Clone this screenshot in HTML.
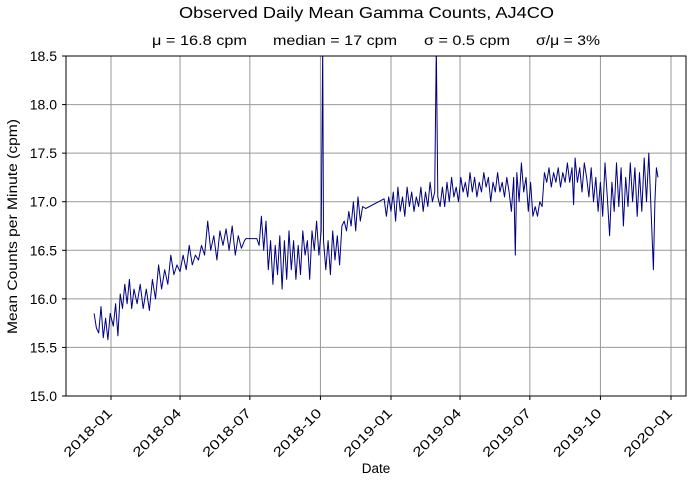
<!DOCTYPE html>
<html><head><meta charset="utf-8"><style>
html,body{margin:0;padding:0;background:#fff;}
svg text{font-family:"Liberation Sans","DejaVu Sans",sans-serif;fill:#000;}
</style></head><body>
<svg id="chart" width="692" height="482" xmlns="http://www.w3.org/2000/svg">
<defs><clipPath id="clip"><rect x="66" y="56" width="620" height="340"/></clipPath></defs>
<rect x="0" y="0" width="692" height="482" fill="#fff"/>
<text x="179" y="18" font-size="16" textLength="375" lengthAdjust="spacingAndGlyphs">Observed Daily Mean Gamma Counts, AJ4CO</text>
<g font-size="13.5">
<text x="152" y="45" textLength="95" lengthAdjust="spacingAndGlyphs">μ = 16.8 cpm</text>
<text x="273" y="45" textLength="124" lengthAdjust="spacingAndGlyphs">median = 17 cpm</text>
<text x="424" y="45" textLength="86" lengthAdjust="spacingAndGlyphs">σ = 0.5 cpm</text>
<text x="536" y="45" textLength="64" lengthAdjust="spacingAndGlyphs">σ/μ = 3%</text>
</g>
<g id="grid"></g>
<g id="series" clip-path="url(#clip)"></g>
<rect x="66" y="56" width="620" height="340" fill="none" stroke="#000" stroke-width="1"/>
<g id="axes"></g>
<text x="376" y="473" font-size="13.5" text-anchor="middle">Date</text>
<text transform="translate(17,334) rotate(-90)" font-size="13.5" textLength="215" lengthAdjust="spacingAndGlyphs">Mean Counts per Minute (cpm)</text>
</svg>
<script>
const days = [-22,-19,-16,-13,-10,-7,-4,-1,3,6,9,12,15,18,21,24,27,30,34,38,42,46,50,54,58,62,66,70,74,78,82,86,90,94,98,102,106,110,114,118,122,126,130,134,138,142,146,150,154,158,162,166,170,174,176,190,193,196,199,202,205,208,211,214,217,220,223,226,229,232,235,238,241,244,247,250,253,256,259,262,265,268,271,274,276,277,280,283,286,289,292,295,298,301,304,307,310,313,316,319,322,325,328,332,356,359,362,365,368,371,374,377,380,383,386,389,392,395,398,401,404,407,410,413,416,419,422,424,426,429,432,435,438,441,444,447,450,453,456,459,462,465,468,471,474,477,480,483,486,489,492,495,498,501,504,507,510,513,516,519,522,525,527,529,532,535,538,541,544,547,550,553,556,559,562,565,568,571,574,577,580,583,586,589,592,595,598,601,603,605,608,611,614,617,620,623,626,629,632,635,638,641,644,647,650,653,656,659,662,665,668,671,674,677,680,683,686,689,692,695,698,701,704,707,709,711,713];
const vals = [15.85,15.7,15.65,15.92,15.6,15.8,15.58,15.85,15.72,15.95,15.62,16.05,15.9,16.15,15.95,16.2,15.9,16.1,15.95,16.15,15.9,16.1,15.88,16.2,16.0,16.35,16.1,16.3,16.15,16.45,16.25,16.35,16.28,16.45,16.3,16.55,16.35,16.45,16.4,16.55,16.45,16.8,16.5,16.65,16.4,16.7,16.55,16.72,16.5,16.75,16.45,16.65,16.52,16.6,16.62,16.62,16.55,16.85,16.5,16.8,16.3,16.6,16.15,16.55,16.25,16.65,16.1,16.6,16.2,16.7,16.3,16.6,16.2,16.55,16.25,16.7,16.45,16.6,16.2,16.7,16.5,16.8,16.45,16.7,18.6,16.6,16.3,16.6,16.25,16.7,16.4,16.65,16.35,16.75,16.8,16.7,16.9,16.75,17.0,16.7,17.05,16.8,16.95,16.93,17.03,16.85,17.05,16.9,17.1,16.8,17.15,16.9,17.05,16.85,17.15,16.95,17.1,16.9,17.05,16.95,17.15,16.9,17.1,16.95,17.2,17.0,17.1,18.6,17.05,16.95,17.15,16.95,17.2,17.0,17.25,17.05,17.15,17.0,17.25,17.1,17.2,17.05,17.3,17.1,17.25,17.05,17.2,17.1,17.3,17.15,17.25,17.0,17.2,17.1,17.3,17.1,17.2,17.05,17.25,17.1,16.9,17.25,16.45,17.3,17.0,17.4,17.1,17.25,16.9,17.2,16.85,16.95,16.85,17.0,16.95,17.3,17.2,17.35,17.15,17.3,17.2,17.35,17.15,17.3,17.2,17.4,17.2,17.35,16.97,17.45,17.2,17.35,17.1,17.4,17.25,17.05,17.35,17.0,17.25,16.9,17.2,16.85,17.4,17.05,16.65,17.2,16.9,17.4,16.95,17.35,16.75,17.25,16.95,17.4,17.0,17.35,16.85,17.3,16.9,17.45,17.0,17.5,16.9,16.3,17.0,17.35,17.25];
const yTicks = [15.0,15.5,16.0,16.5,17.0,17.5,18.0,18.5];
const xTickDays = [0,90,181,273,365,455,546,638,730];
const xTickLabels = ["2018-01","2018-04","2018-07","2018-10","2019-01","2019-04","2019-07","2019-10","2020-01"];
</script>
<script>
const NS="http://www.w3.org/2000/svg";
const L=66,R=686,T=56,B=396,Y0=15,Y1=18.5;
const xS=d=>111+d*(560/730);
const yS=v=>B-(v-Y0)/(Y1-Y0)*(B-T);
function mk(tag,attrs,parent){const e=document.createElementNS(NS,tag);for(const k in attrs)e.setAttribute(k,attrs[k]);parent.appendChild(e);return e;}
const grid=document.getElementById('grid'),axes=document.getElementById('axes'),series=document.getElementById('series');
yTicks.forEach(v=>{
  const y=yS(v);
  const g=mk('line',{x1:L,x2:R,y1:y,y2:y,stroke:'#999',"stroke-width":1},grid);
  
  
  mk('line',{x1:L-4,x2:L,y1:y,y2:y,stroke:'#000'},axes);
  const t=mk('text',{x:L-9,y:y+5,"font-size":14,"text-anchor":"end"},axes);
  t.textContent=v.toFixed(1);
  
  
});
xTickDays.forEach((d,i)=>{
  const x=xS(d);
  const g=mk('line',{x1:x,x2:x,y1:T,y2:B,stroke:'#999',"stroke-width":1},grid);
  
  
  mk('line',{x1:x,x2:x,y1:B,y2:B+4,stroke:'#000'},axes);
  const t=mk('text',{transform:`translate(${x+2},${B+18}) rotate(-45)`,"font-size":13.5,"text-anchor":"end",textLength:62,lengthAdjust:"spacingAndGlyphs"},axes);
  t.textContent=xTickLabels[i];
  
  
});
const pts=days.map((d,i)=>xS(d).toFixed(1)+','+yS(vals[i]).toFixed(1)).join(' ');
const pl=mk('polyline',{points:pts,fill:'none',stroke:'#000080',"stroke-width":1,"stroke-linejoin":"round"},series);


</script>
</body></html>
